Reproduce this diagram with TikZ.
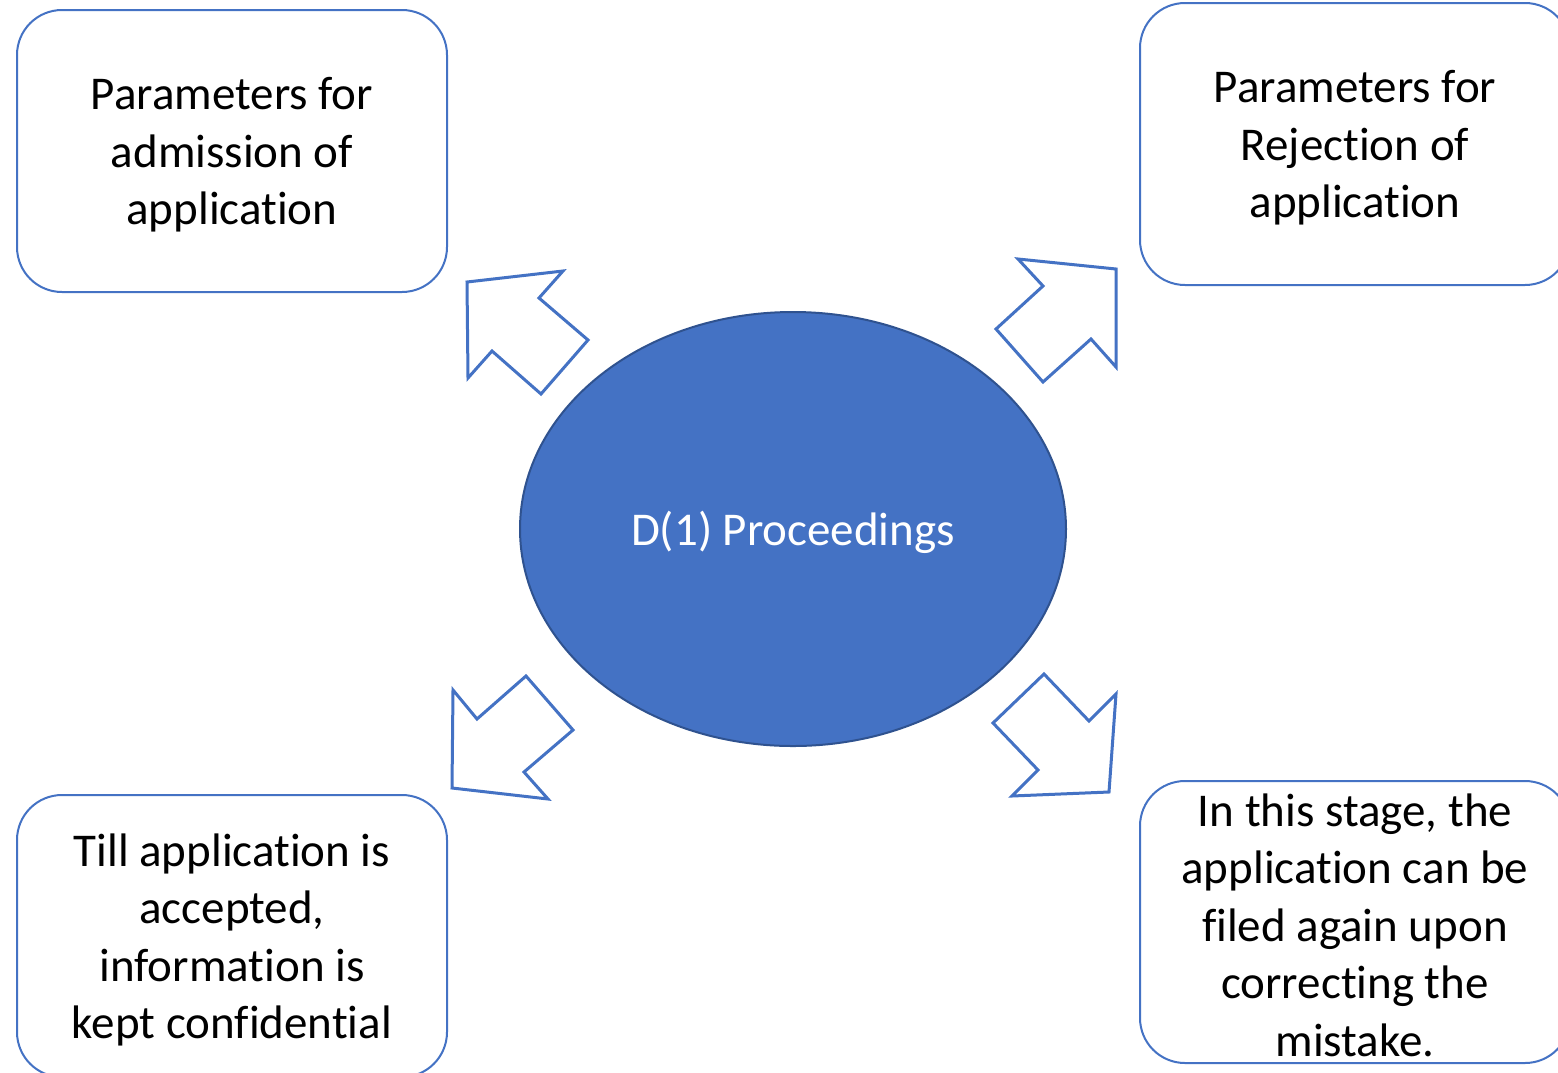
\documentclass[tikz,border=0pt]{standalone}
\usepackage{fontspec}
\setmainfont[Ligatures={NoCommon,NoContextual,NoRare}]{Carlito}
\usetikzlibrary{shapes.geometric}
\definecolor{accent}{HTML}{4472C4}
\definecolor{accentdark}{HTML}{2F528F}
\tikzset{
  infobox/.style={draw=accent, line width=2pt, rounded corners=45pt, fill=white,
    minimum width=430pt, minimum height=282pt, inner sep=0pt},
  boxtext/.style={align=center, inner sep=0pt,
    font=\fontsize{47}{57.5}\selectfont, text=black},
  blockarrow/.style={draw=accent, line width=3pt, fill=white, line join=miter},
}
\begin{document}
\begin{tikzpicture}[x=1pt, y=-1pt]
\useasboundingbox (0,0) rectangle (1558,1072);
\clip (0,0) rectangle (1558,1072);
\fill[white] (0,0) rectangle (1558,1072);

\node[infobox] (adm) at (232,151) {};
\node[infobox] (rej) at (1355,144) {};
\node[infobox] (conf) at (232,936) {};
\node[infobox] (refile) at (1355,922) {};

\node[boxtext] (admtext) at ([yshift=-4pt]adm.center) {Parameters for\\admission of\\application};
\node[boxtext] (rejtext) at ([yshift=-4pt]rej.center) {Parameters for\\Rejection of\\application};
\node[boxtext] (conftext) at ([yshift=-4pt]conf.center) {Till application is\\accepted,\\information is\\kept confidential};
\node[boxtext] (refiletext) at ([yshift=-3pt]refile.center) {In this stage, the\\application can be\\filed again upon\\correcting the\\mistake.};

\node[ellipse, draw=accentdark, line width=2pt, fill=accent, minimum width=546pt, minimum height=434pt,
      inner sep=0pt] (core) at (793,529) {};
\node[boxtext, text=white] (coretext) at ([yshift=-3pt]core.center) {D(1) Proceedings};

% block arrows
\draw[blockarrow] (467,282) -- (563,271) -- (539,298) -- (588,340) -- (541,394) -- (492,351) -- (468,378) -- cycle;
\draw[blockarrow] (1018,259) -- (1116,269) -- (1116,367) -- (1091,339) -- (1043,382) -- (996,329) -- (1043,286) -- cycle;
\draw[blockarrow] (453,690) -- (477,719) -- (526,676) -- (573,730) -- (524,772) -- (548,799) -- (452,788) -- cycle;
\draw[blockarrow] (1044,674) -- (1089,721) -- (1116,694) -- (1109,792) -- (1012,796) -- (1038,770) -- (993,723) -- cycle;
\end{tikzpicture}
\end{document}
